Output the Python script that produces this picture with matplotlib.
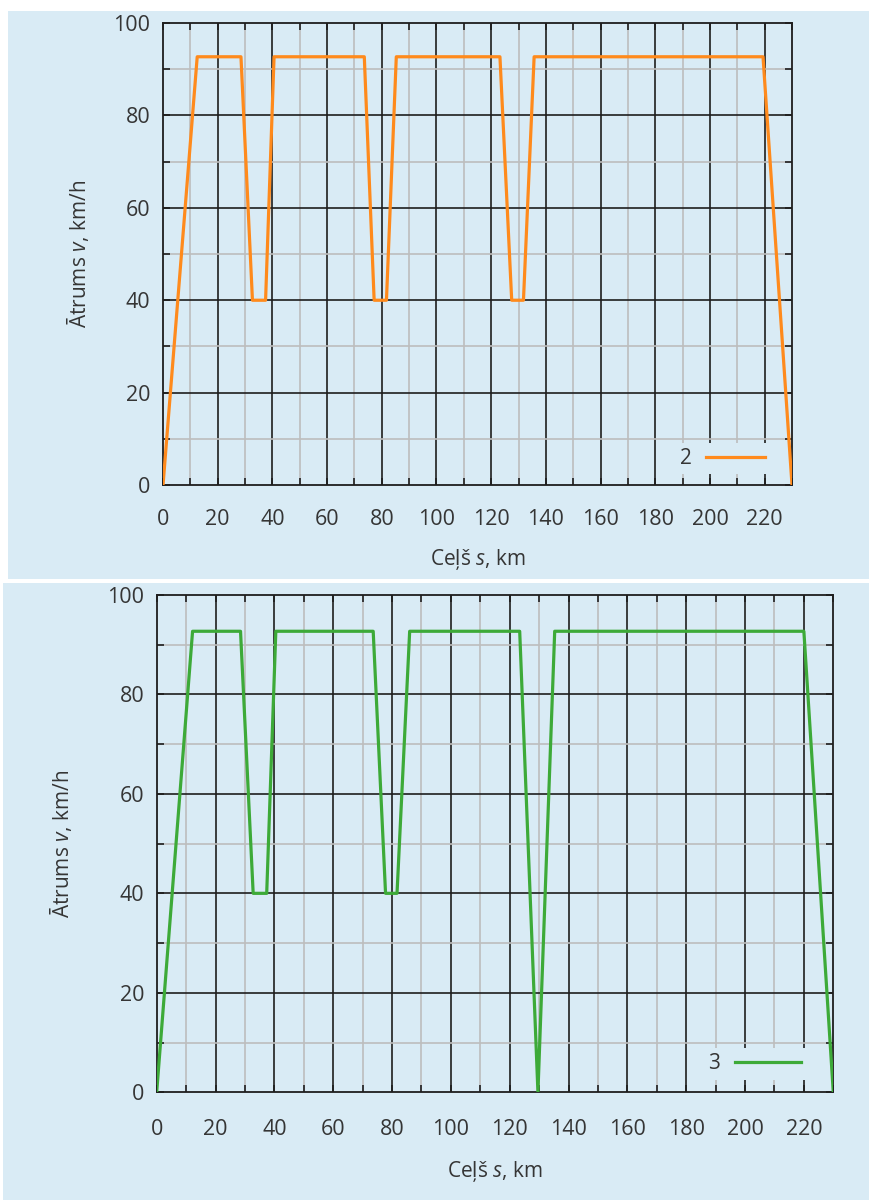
import matplotlib

matplotlib.use("Agg")
import matplotlib.pyplot as plt
from matplotlib.patches import Rectangle
from matplotlib.ticker import MultipleLocator
import numpy as np

# distance along the route (km) and speed (km/h) for the two runs
top_s = [0, 12.5, 28.5, 32.7, 37.5, 40.6, 73.6, 77.2, 81.7, 85.3,
         123.2, 127.5, 131.8, 135.7, 219.4, 230]
top_v = [0, 92.7, 92.7, 40, 40, 92.7, 92.7, 40, 40, 92.7,
         92.7, 40, 40, 92.7, 92.7, 0]
top_label = "2"

bottom_s = [0, 12.2, 28.5, 32.8, 37.4, 40.5, 73.6, 77.8, 81.7, 86.0,
            123.4, 129.6, 135.3, 220.0, 230]
bottom_v = [0, 92.7, 92.7, 40, 40, 92.7, 92.7, 40, 40, 92.7,
            92.7, 0, 92.7, 92.7, 0]
bottom_label = "3"

x_ticks = list(range(0, 221, 20))
y_ticks = list(range(0, 101, 20))
x_label = "Ceļš $s$, km"
y_label = "Ātrums $v$, km/h"

BG = "#d9ebf5"
TXT = "#353535"

plt.rcParams["font.family"] = ["Open Sans", "DejaVu Sans"]
plt.rcParams["mathtext.fontset"] = "custom"
plt.rcParams["mathtext.rm"] = "Open Sans"
plt.rcParams["mathtext.it"] = "Open Sans:italic"

fig = plt.figure(figsize=(8.69, 12), dpi=100)
fig.patch.set_facecolor("white")

# light blue panels behind each chart
fig.patches.append(Rectangle((0.0092, 0.5175), 0.9908, 0.4733,
                             transform=fig.transFigure, facecolor=BG,
                             edgecolor="none", zorder=-5))
fig.patches.append(Rectangle((0.0035, 0.0), 0.9965, 0.5142,
                             transform=fig.transFigure, facecolor=BG,
                             edgecolor="none", zorder=-5))


def draw_panel(rect, s, v, color, label, xlab_y, ylab_x, tick_pad,
               leg_x, handle_len):
    ax = fig.add_axes(rect)
    ax.set_facecolor(BG)
    ax.set_xlim(0, 230)
    ax.set_ylim(0, 100)

    # grid drawn by hand so that the legend box can hide it but not the ticks
    for x in np.arange(10, 230, 10):
        major = x % 20 == 0
        ax.axvline(x, color="#1e1e1e" if major else "#bdbdbd",
                   linewidth=1.2, zorder=1)
    for y in np.arange(10, 100, 10):
        major = y % 20 == 0
        ax.axhline(y, color="#1e1e1e" if major else "#bdbdbd",
                   linewidth=1.2, zorder=1)

    ax.plot(s, v, color=color, linewidth=2.3, label=label, zorder=3)

    ax.set_xticks(x_ticks)
    ax.set_yticks(y_ticks)
    ax.xaxis.set_minor_locator(MultipleLocator(10))
    ax.yaxis.set_minor_locator(MultipleLocator(10))
    ax.tick_params(which="both", direction="in", top=True, right=True,
                   color="#1e1e1e", width=1.2, labelsize=15.5,
                   labelcolor=TXT)
    ax.tick_params(which="major", length=5)
    ax.tick_params(which="minor", length=5)
    ax.tick_params(axis="x", pad=tick_pad)
    ax.tick_params(axis="y", pad=9)
    for sp in ax.spines.values():
        sp.set_color("#1e1e1e")
        sp.set_linewidth(1.3)

    ax.set_xlabel(x_label, fontsize=15, color=TXT)
    ax.set_ylabel(y_label, fontsize=15, color=TXT)
    ax.xaxis.set_label_coords(0.5, xlab_y)
    ax.yaxis.set_label_coords(ylab_x, 0.5)

    leg = ax.legend(loc="center", bbox_to_anchor=(leg_x, 0.057),
                    markerfirst=False, frameon=True, facecolor=BG,
                    edgecolor="none", framealpha=1, fancybox=False,
                    handlelength=handle_len, handletextpad=0.7,
                    borderpad=0.25, fontsize=15, labelcolor=TXT)
    leg.set_zorder(2.2)
    return ax


draw_panel([0.1876, 0.5958, 0.7238, 0.3850], top_s, top_v,
           "#ff8a1c", top_label, -0.135, -0.115, 17, 0.889, 2.8)
draw_panel([0.1803, 0.0898, 0.7786, 0.4144], bottom_s, bottom_v,
           "#3daa38", bottom_label, -0.135, -0.122, 19, 0.884, 3.2)

fig.savefig("out.png", dpi=100, facecolor=fig.get_facecolor())
